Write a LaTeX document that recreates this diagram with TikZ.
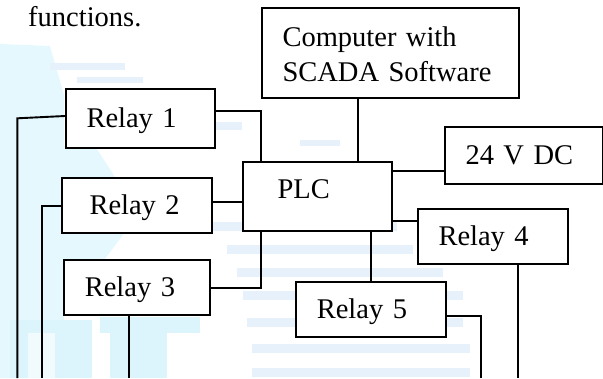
\documentclass[tikz,border=0pt]{standalone}
\usepackage{fontspec}
\setmainfont{Liberation Serif}
\definecolor{wmc}{RGB}{228,248,253}
\definecolor{wmo}{RGB}{220,245,252}
\definecolor{wms}{RGB}{230,241,251}
\begin{document}
\begin{tikzpicture}[x=1pt,y=-1pt,
  box/.style={draw, fill=white, line width=2pt, anchor=north west,
    inner xsep=20.5pt, inner ysep=0pt, text height=20pt, text depth=2pt,
    align=left, font=\fontsize{28.5}{34.5}\selectfont},
  wire/.style={line width=1.9pt},
  plain/.style={inner sep=0pt, font=\fontsize{28.5}{34.5}\selectfont}]
\useasboundingbox (0,0) rectangle (603,378);
% ---- faint watermark ----
\fill[wmc] (0,44) -- (50,46) -- (64,95) -- (64,378) -- (0,378) -- cycle;
\fill[wmc] (60,146) -- (95,146) -- (115,177) -- (60,177) -- cycle;
\fill[wmc] (60,232) -- (125,232) -- (105,259) -- (60,259) -- cycle;
\fill[wms] (50,63) rectangle (125,70);
\fill[wms] (77,77) rectangle (143,83);
\fill[wms] (214,122) rectangle (242,130);
\fill[wms] (300,140) rectangle (340,146);
\fill[wmo] (10,320) rectangle (92,378);
\fill[white!60!wmo] (28,333) rectangle (55,378);
\fill[wmo] (100,317) rectangle (200,333);
\fill[wmo] (110,333) rectangle (167,378);
\foreach \ya/\xa/\xb in {222/213/397, 245/227/413, 268/237/443, 291/243/463, 318/247/463, 344/252/470, 368/252/470}
  \fill[wms] (\xa,\ya) rectangle (\xb,\ya+9);
% ---- text ----
\node[plain, anchor=base west] (fn) at (28,26) {functions.};
% ---- boxes ----
\node[box, text width=216pt, minimum height=90pt, text height=20pt, text depth=33pt] (comp) at (261,7)
  {\begin{tabular}[t]{@{}l@{}}Computer with\\SCADA Software\end{tabular}};
\node[box, text width=117pt, minimum height=57pt] (dc) at (444,126) {24 V DC};
\node[box, text width=108pt, minimum height=69pt, text height=12pt, text depth=8.4pt] (plc) at (241.5,161) {\hspace*{14.5pt}PLC};
\node[box, text width=108pt, minimum height=59pt] (r1) at (65,87.5) {Relay 1};
\node[box, text width=108.7pt, minimum height=55pt] (r2) at (61,177) {\hspace*{7pt}Relay 2};
\node[box, text width=104.7pt, minimum height=55.3pt] (r3) at (63.3,258.7) {Relay 3};
\node[box, text width=108.7pt, minimum height=54.7pt] (r4) at (417,208) {Relay 4};
\node[box, text width=108.7pt, minimum height=54.7pt] (r5) at (295.3,281.3) {Relay 5};
% ---- helper coordinates ----
\coordinate (cx) at (358.3,0);
\coordinate (px) at (260.7,0);
\coordinate (qx) at (371,0);
\coordinate (ydc) at (0,170.7);
\coordinate (y1) at (0,111);
\coordinate (y2) at (0,201.7);
\coordinate (y3) at (0,288);
\coordinate (y4) at (0,221.3);
\coordinate (y5) at (0,316);
\coordinate (k1) at (17.3,118.3);
\coordinate (b1) at (17.3,378);
\coordinate (b2) at (41.7,378);
\coordinate (b3) at (129,378);
\coordinate (b4) at (518,378);
\coordinate (b5) at (481,378);
\coordinate (l1) at (0,116);
\coordinate (l2) at (0,205.7);
% ---- connectors ----
\draw[wire] (comp.south -| cx) -- (plc.north -| cx);
\draw[wire] (plc.east |- ydc) -- (dc.west |- ydc);
\draw[wire] (r1.east |- y1) -| (plc.north -| px);
\draw[wire] (r2.east |- y2) -- (plc.west |- y2);
\draw[wire] (r3.east |- y3) -| (plc.south -| px);
\draw[wire] (plc.east |- y4) -- (r4.west |- y4);
\draw[wire] (plc.south -| qx) -- (r5.north -| qx);
\draw[wire] (r4.south -| b4) -- (b4);
\draw[wire] (r5.east |- y5) -| (b5);
\draw[wire] (r3.south -| b3) -- (b3);
\draw[wire] (r1.west |- l1) -- (k1) -- (b1);
\draw[wire] (r2.west |- l2) -| (b2);
\end{tikzpicture}
\end{document}
